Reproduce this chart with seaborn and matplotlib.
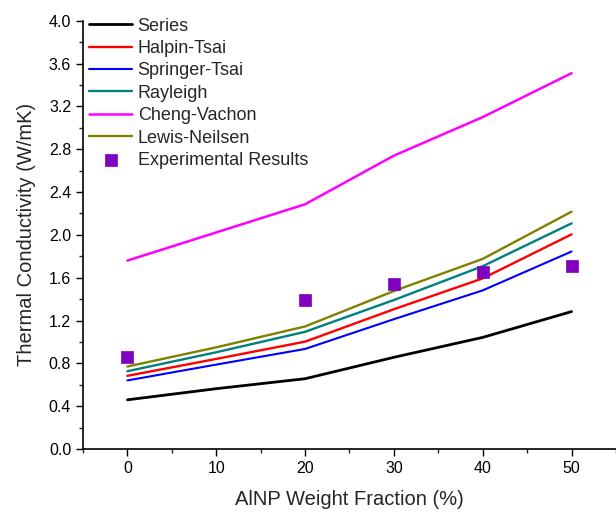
import matplotlib
matplotlib.use("Agg")
import matplotlib.pyplot as plt
import seaborn as sns
import pandas as pd
from matplotlib.ticker import MultipleLocator

x_model = [0, 10, 20, 30, 40, 50]
series = [0.46, 0.564, 0.657, 0.857, 1.043, 1.284]
halpin_tsai = [0.684, 0.842, 1.003, 1.306, 1.594, 2.005]
springer_tsai = [0.641, 0.789, 0.935, 1.213, 1.482, 1.845]
rayleigh = [0.727, 0.904, 1.095, 1.392, 1.708, 2.108]
cheng_vachon = [1.76, 2.023, 2.286, 2.74, 3.10, 3.51]
lewis_neilsen = [0.771, 0.95, 1.145, 1.476, 1.776, 2.217]

x_exp = [0, 20, 30, 40, 50]
experimental = [0.864, 1.392, 1.538, 1.649, 1.708]

model_names = ["Series", "Halpin-Tsai", "Springer-Tsai", "Rayleigh", "Cheng-Vachon", "Lewis-Neilsen"]
model_values = [series, halpin_tsai, springer_tsai, rayleigh, cheng_vachon, lewis_neilsen]
colors = ["#000000", "#FF0000", "#0000FF", "#008080", "#FF00FF", "#808000"]
widths = [2.0, 1.7, 1.5, 1.7, 1.8, 1.7]

sns.set_style("ticks")
plt.rcParams["font.family"] = ["Liberation Sans", "DejaVu Sans"]

fig = plt.figure(figsize=(6.16, 5.14), dpi=100)
ax = fig.add_axes([0.1347, 0.1263, 0.8653, 0.8334])

for name, vals, c, w in zip(model_names, model_values, colors, widths):
    df = pd.DataFrame({"x": x_model, "y": vals})
    sns.lineplot(data=df, x="x", y="y", ax=ax, color=c, linewidth=w, label=name)

dfe = pd.DataFrame({"x": x_exp, "y": experimental})
sns.scatterplot(data=dfe, x="x", y="y", ax=ax, marker="s", s=64, color="#7F00BF",
                edgecolor="#7F00BF", linewidth=0.5, label="Experimental Results", zorder=5)

ax.set_xlim(-5, 55)
ax.set_ylim(0, 4.0)
ax.xaxis.set_major_locator(MultipleLocator(10))
ax.xaxis.set_minor_locator(MultipleLocator(5))
ax.yaxis.set_major_locator(MultipleLocator(0.4))
ax.yaxis.set_minor_locator(MultipleLocator(0.2))
ax.yaxis.set_major_formatter(matplotlib.ticker.FormatStrFormatter("%.1f"))
ax.tick_params(which="major", direction="out", length=5, width=1, labelsize=11.5, colors="black")
ax.tick_params(which="minor", direction="out", length=3, width=1)
for s in ["top", "right"]:
    ax.spines[s].set_visible(False)
for s in ["left", "bottom"]:
    ax.spines[s].set_linewidth(1.2)
    ax.spines[s].set_color("black")

ax.set_xlabel("AlNP Weight Fraction (%)", fontsize=14.5, labelpad=10)
ax.set_ylabel("Thermal Conductivity (W/mK)", fontsize=14.5, labelpad=9)

leg = ax.legend(loc="upper left", bbox_to_anchor=(-0.0125, 1.037), frameon=False, fontsize=13,
                handlelength=2.4, handletextpad=0.3, labelspacing=0.3, borderaxespad=0.3)

fig.savefig("out.png", dpi=100)
